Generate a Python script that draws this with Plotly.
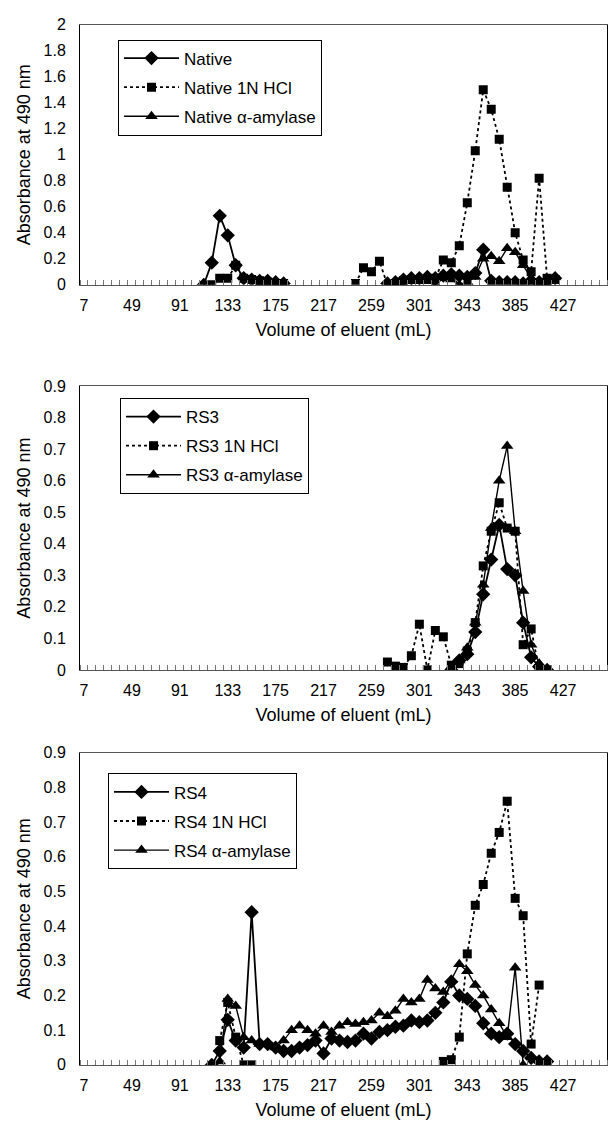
import plotly.graph_objects as go

# ---------------- Panel 1: Native ----------------
p1_native_vol = [112, 119, 126, 133, 140, 147, 154, 161, 168, 175, 182, 189,
                 273, 280, 287, 294, 301, 308, 315, 322, 329, 336, 343, 350, 357, 364,
                 371, 378, 385, 392, 399, 406, 413, 420]
p1_native_abs = [0.0, 0.17, 0.53, 0.38, 0.15, 0.05, 0.04, 0.03, 0.03, 0.02, 0.01, None,
                 0.01, 0.02, 0.04, 0.05, 0.05, 0.06, 0.05, 0.07, 0.08, 0.07, 0.06, 0.09, 0.27, 0.03,
                 0.02, 0.02, 0.02, 0.01, 0.03, 0.02, 0.03, 0.05]

p1_hcl_vol = [119, 126, 133, 140, 147, 154, 161, 168, 175, 182, 189,
              245, 252, 259, 266, 273, 280, 287, 294, 301, 308, 315, 322, 329, 336, 343,
              350, 357, 364, 371, 378, 385, 392, 399, 406, 413, 420]
p1_hcl_abs = [0.0, 0.05, 0.05, 0.15, 0.05, 0.04, 0.03, 0.02, 0.01, 0.01, None,
              0.01, 0.13, 0.10, 0.18, 0.0, 0.01, 0.03, 0.04, 0.04, 0.04, 0.05, 0.19, 0.17, 0.30, 0.63,
              1.03, 1.50, 1.35, 1.12, 0.75, 0.40, 0.19, 0.10, 0.82, 0.05, 0.04]

p1_amy_vol = [280, 287, 294, 301, 308, 315, 322, 329, 336, 343, 350, 357, 364, 371,
              378, 385, 392, 399, 406, 413]
p1_amy_abs = [0.02, 0.03, 0.03, 0.04, 0.03, 0.0, 0.05, 0.04, 0.0, 0.02, 0.06, 0.20, 0.22, 0.18,
              0.28, 0.25, 0.15, 0.05, 0.02, 0.0]

# ---------------- Panel 2: RS3 ----------------
p2_rs3_vol = [329, 336, 343, 350, 357, 364, 371, 378, 385, 392, 399, 406, 413]
p2_rs3_abs = [0.0, 0.03, 0.05, 0.12, 0.24, 0.35, 0.46, 0.32, 0.30, 0.15, 0.04, 0.01, 0.0]

p2_hcl_vol = [273, 280, 287, 294, 301, 308, 315, 322, 329, 336, 343, 350, 357, 364,
              371, 378, 385, 392, 399, 406, 413]
p2_hcl_abs = [0.025, 0.012, 0.008, 0.045, 0.145, 0.0, 0.125, 0.105, 0.015, 0.02, 0.06, 0.15, 0.33, 0.44,
              0.53, 0.45, 0.44, 0.08, 0.13, 0.0, 0.0]

p2_amy_vol = [329, 336, 343, 350, 357, 364, 371, 378, 385, 392, 399, 406, 413]
p2_amy_abs = [0.01, 0.03, 0.07, 0.15, 0.27, 0.45, 0.60, 0.71, 0.44, 0.25, 0.08, 0.02, 0.0]

# ---------------- Panel 3: RS4 ----------------
p3_rs4_vol = [119, 126, 133, 140, 147, 154, 161, 168, 175, 182, 189, 196, 203, 210, 217,
              224, 231, 238, 245, 252, 259, 266, 273, 280, 287, 294, 301, 308, 315, 322,
              329, 336, 343, 350, 357, 364, 371, 378, 385, 392, 399, 406, 413]
p3_rs4_abs = [0.0, 0.04, 0.13, 0.07, 0.05, 0.44, 0.06, 0.06, 0.05, 0.04, 0.04, 0.05, 0.057, 0.07, 0.033,
              0.076, 0.07, 0.066, 0.07, 0.09, 0.076, 0.095, 0.10, 0.11, 0.113, 0.128, 0.123, 0.128, 0.15, 0.18,
              0.24, 0.20, 0.19, 0.17, 0.12, 0.09, 0.08, 0.09, 0.06, 0.04, 0.02, 0.01, 0.01]

p3_hcl_vol = [126, 133, 140, 147, 154, 161,
              322, 329, 336, 343, 350, 357, 364, 371, 378, 385, 392, 399, 406]
p3_hcl_abs = [0.07, 0.18, 0.08, 0.0, 0.0, None,
              0.01, 0.015, 0.08, 0.32, 0.46, 0.52, 0.61, 0.67, 0.76, 0.48, 0.43, 0.06, 0.23]

p3_amy_vol = [119, 126, 133, 140, 147, 154, 161, 168, 175, 182, 189, 196, 203, 210, 217,
              224, 231, 238, 245, 252, 259, 266, 273, 280, 287, 294, 301, 308, 315, 322,
              329, 336, 343, 350, 357, 364, 371, 378, 385, 392]
p3_amy_abs = [0.0, 0.01, 0.19, 0.17, 0.08, 0.07, 0.06, 0.06, 0.05, 0.07, 0.10, 0.113, 0.10, 0.09, 0.113,
              0.095, 0.113, 0.123, 0.118, 0.123, 0.128, 0.15, 0.14, 0.156, 0.19, 0.18, 0.19, 0.245, 0.22, 0.21,
              0.245, 0.29, 0.27, 0.23, 0.20, 0.16, 0.12, 0.08, 0.28, 0.0]

tick_vals = [7, 49, 91, 133, 175, 217, 259, 301, 343, 385, 427]
tick_text = ["7", "49", "91", "133", "175", "217", "259", "301", "343", "385", "427"]

W, H = 608, 1132
FONT = "Liberation Sans, Arial, sans-serif"

fig = go.Figure()

def add(ax, name, vol, ab, symbol, size, dash, width, legend):
    fig.add_trace(go.Scatter(
        x=vol, y=ab, name=name, mode="lines+markers",
        xaxis="x" + ax, yaxis="y" + ax, legend=legend, legendgroup=name,
        line=dict(color="black", width=width, dash=dash),
        marker=dict(symbol=symbol, size=size, color="black"),
        connectgaps=False,
    ))

add("", "Native", p1_native_vol, p1_native_abs, "diamond", 11, "solid", 1.8, "legend")
add("", "Native 1N HCl", p1_hcl_vol, p1_hcl_abs, "square", 9, "dot", 1.8, "legend")
add("", "Native α-amylase", p1_amy_vol, p1_amy_abs, "triangle-up", 11, "solid", 1.4, "legend")

add("2", "RS3", p2_rs3_vol, p2_rs3_abs, "diamond", 11, "solid", 1.8, "legend2")
add("2", "RS3 1N HCl", p2_hcl_vol, p2_hcl_abs, "square", 9, "dot", 1.8, "legend2")
add("2", "RS3 α-amylase", p2_amy_vol, p2_amy_abs, "triangle-up", 11, "solid", 1.4, "legend2")

add("3", "RS4", p3_rs4_vol, p3_rs4_abs, "diamond", 11, "solid", 1.8, "legend3")
add("3", "RS4 1N HCl", p3_hcl_vol, p3_hcl_abs, "square", 9, "dot", 1.8, "legend3")
add("3", "RS4 α-amylase", p3_amy_vol, p3_amy_abs, "triangle-up", 11, "solid", 1.4, "legend3")

x_dom = [80 / W, 607 / W]
panels = [  # (zero_px, top_px, ymax, dtick)
    (281, 17, 2.0, 0.2),
    (672, 384, 0.9, 0.1),
    (1073, 756, 0.9, 0.1),
]
legend_pos = [(118, 32), (120, 396), (108, 777)]

layout = dict(
    width=W, height=H,
    margin=dict(l=0, r=0, t=0, b=0),
    paper_bgcolor="white", plot_bgcolor="white",
    font=dict(family=FONT, color="black", size=16),
    showlegend=True,
)

for i, (zero_px, top_px, ymax, dt) in enumerate(panels):
    sfx = "" if i == 0 else str(i + 1)
    anchor = "y" + sfx
    ydom = [1 - zero_px / H, 1 - top_px / H]
    layout["xaxis" + sfx] = dict(
        domain=x_dom, anchor=anchor, range=[3.5, 465.5],
        tickmode="array", tickvals=tick_vals, ticktext=tick_text,
        ticks="", showgrid=False, zeroline=False,
        showline=True, linecolor="#555", linewidth=1, mirror=True,
        tickfont=dict(size=16), ticklabelstandoff=6,
        minor=dict(tickmode="linear", tick0=3.5, dtick=7, ticks="inside",
                   ticklen=5, tickcolor="#777", tickwidth=1, showgrid=False),
        title=dict(text="Volume of eluent (mL)", font=dict(size=18), standoff=10),
    )
    layout["yaxis" + sfx] = dict(
        domain=ydom, anchor="x" + sfx, range=[0, ymax],
        tickmode="linear", tick0=0, dtick=dt,
        ticks="", showgrid=False, zeroline=False,
        showline=True, linecolor="black", linewidth=1, mirror=True,
        tickfont=dict(size=16), ticklabelstandoff=10,
        title=dict(text="Absorbance at 490 nm", font=dict(size=18), standoff=8),
    )
    lx, ly = legend_pos[i]
    layout["legend" if i == 0 else "legend" + str(i + 1)] = dict(
        x=lx / W, y=1 - ly / H, xanchor="left", yanchor="top",
        bgcolor="white", bordercolor="black", borderwidth=1,
        font=dict(size=17, family=FONT), tracegroupgap=4, itemwidth=55,
    )

fig.update_layout(**layout)
fig.write_html(
    "out.html",
    config={"displayModeBar": False, "staticPlot": True},
    post_script="document.body.style.margin='0';document.body.style.overflow='hidden';",
)
